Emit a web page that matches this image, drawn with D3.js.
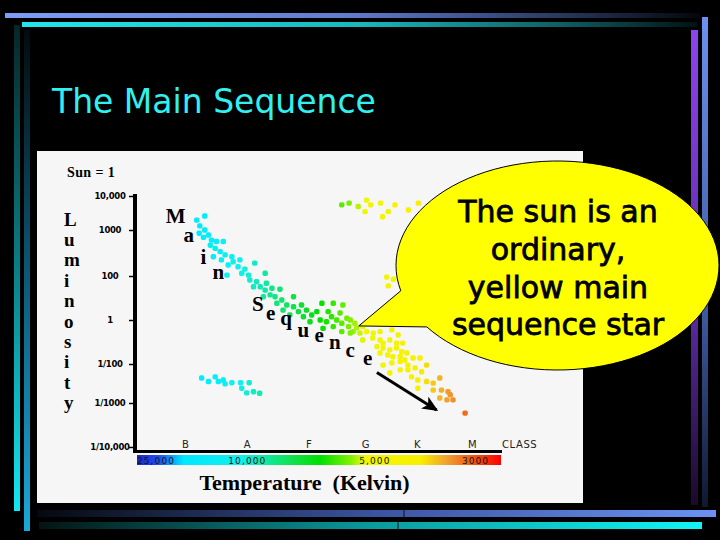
<!DOCTYPE html>
<html>
<head>
<meta charset="utf-8">
<script src="https://cdn.jsdelivr.net/npm/d3@7"></script>
<style>
html, body { margin: 0; padding: 0; background: #000; }
svg { display: block; }
</style>
</head>
<body>
<div id="slide"></div>
<script>
// spectral classes along the bottom (B hot ... M cool)
var classes = ["B", "A", "F", "G", "K", "M"];
// luminosity ticks, log10 of L / Lsun, with their printed labels
var lumTicks = [4, 3, 2, 0, -2, -3, -4];
var lumLabels = ["10,000", "1000", "100", "1", "1/100", "1/1000", "1/10,000"];
// temperature labels printed on the colour bar, placed in class units
var tempLabels = ["25,000", "10,000", "5,000", "3000"];
var tempPos = [-0.47, 1.01, 3.19, 5.07];

// stars: [class index, log10 luminosity]
var mainSequence = [
    [0.32,3.41],[0.19,3.29],[0.24,3.12],[0.32,3.00],[0.23,2.93],[0.38,2.89],[0.30,2.84],[0.43,2.78],[0.51,2.75],[0.62,2.75],
    [0.41,2.67],[0.49,2.60],[0.57,2.53],[0.65,2.46],[0.46,2.42],[0.76,2.42],[0.59,2.35],[0.78,2.31],[0.89,2.35],[0.70,2.24],
    [0.86,2.20],[0.97,2.15],[0.68,2.02],[0.92,2.06],[1.03,2.02],[1.13,2.28],[1.05,1.82],[1.16,1.74],[1.30,2.06],[1.22,1.51],
    [1.32,1.67],[1.11,1.51],[1.30,1.36],[1.41,1.44],[1.54,1.40],[1.38,1.14],[1.46,1.06],[1.27,1.06],[1.57,0.91],[1.65,0.68],
    [1.76,1.06],[1.49,0.76],[1.59,0.45],[1.76,0.60],[1.89,0.68],[1.84,0.38],[1.97,0.45],[1.70,0.23],[1.92,0.15],[2.06,0.23],
    [2.24,0.76],[2.15,0.38],[2.03,-0.08],[2.21,0.00],[2.35,0.38],[2.44,0.76],[2.32,-0.08],[2.41,0.15],[2.50,0.00],[2.26,-0.38],
    [2.44,-0.30],[2.59,-0.15],[2.68,0.08],[2.71,-0.30],[2.59,-0.53],[2.79,-0.53],[2.82,-0.15],[2.61,0.68],[2.56,0.32],[2.74,0.00],
    [2.85,-0.36],[2.96,-0.30],[2.74,-0.59],[2.91,-0.59],[3.03,-0.53],[3.16,-0.60],[3.29,-0.53],[2.96,-0.91],[3.15,-0.82],[3.29,-0.91],
    [3.35,-1.05],[3.52,-0.45],[3.48,-0.91],[3.64,-0.68],[3.61,-1.05],[3.23,-1.21],[3.35,-1.27],[3.48,-1.36],[3.61,-1.27],[3.73,-1.05],
    [3.71,-1.44],[3.29,-1.50],[3.44,-1.59],[3.54,-1.67],[3.68,-1.67],[3.81,-1.50],[3.35,-2.03],[3.52,-1.95],[3.68,-1.89],[3.77,-1.82],
    [3.83,-2.03],[3.93,-1.73],[4.06,-1.73],[4.18,-2.03],[3.68,-2.15],[3.83,-2.15],[3.97,-2.10],[4.09,-2.20],[3.48,-2.23],[3.90,-2.33],
    [4.02,-2.41],[4.02,-2.62],[4.18,-2.45],[4.30,-2.49],[4.42,-2.36],[4.30,-2.67],[4.45,-2.67],[4.57,-2.71],[4.42,-2.87],[4.55,-2.92],
    [4.66,-2.92],[4.61,-2.79],[4.88,-3.23]
];
var giants = [
    [2.59,3.74],[2.72,3.79],[2.88,3.69],[3.00,3.54],[3.03,3.88],[3.11,3.74],[3.30,3.79],[3.34,3.39],
    [3.45,3.54],[3.58,3.74],[3.84,3.59],[4.03,3.79],[3.42,1.95],[3.55,1.85],[3.45,1.55]
];
var whiteDwarfs = [
    [0.27,-2.36],[0.38,-2.45],[0.49,-2.33],[0.54,-2.45],[0.62,-2.41],[0.65,-2.51],[0.76,-2.48],
    [0.90,-2.48],[0.92,-2.62],[1.04,-2.48],[1.00,-2.74],[1.11,-2.71],[1.21,-2.75]
];

// the "Main Sequence" letters written along the band, in data units
var bandLetters = ["M","a","i","n","S","e","q","u","e","n","c","e"];
var bandCls = [-0.15, 0.06, 0.30, 0.54, 1.18, 1.39, 1.64, 1.92, 2.19, 2.47, 2.74, 3.05];
var bandLum = [3.21, 2.73, 2.26, 1.85, 0.41, 0.00, -0.23, -0.76, -0.99, -1.33, -1.67, -2.03];

// arrow toward the cool dim end, and the point the bubble's tail touches
var arrowFrom = [3.23, -2.22], arrowTo = [4.36, -3.16];
var sunPoint = [2.89, -0.27];
var bubbleLines = ["The sun is an", "ordinary,", "yellow main", "sequence star"];

var width = 720, height = 540;

var x = d3.scaleLinear()
    .domain([0, 1, 2, 3, 4, 5])
    .range([185, 246.7, 308.3, 365, 416.7, 471.7]);
var y = d3.scaleLinear()
    .domain([-4, -3, -2, 0, 2, 3, 4])
    .range([447, 403, 364, 320, 276, 230, 196]);

// temperature colours, keyed on class position (also used for the colour bar)
var colorDomain = [-0.78, -0.41, -0.03, 0.89, 1.81, 2.21, 2.74, 3.0, 4.06, 4.55, 5.06, 5.53];
var color = d3.scaleLinear()
    .domain(colorDomain)
    .range(["#1a28d0","#2050f0","#00e8ff","#10f0f0","#10e040","#00e000","#80f000","#f0f800","#f8f000","#f0a030","#f05010","#ff0000"]);

var svg = d3.select("#slide")
    .append("svg")
    .attr("width", width)
    .attr("height", height);
var defs = svg.append("defs");

function gradient(id, vertical, stops) {
    var g = defs.append("linearGradient")
        .attr("id", id)
        .attr("x1", 0).attr("y1", 0)
        .attr("x2", vertical ? 0 : 1).attr("y2", vertical ? 1 : 0);
    stops.forEach(function(s) {
        g.append("stop").attr("offset", s[0]).attr("stop-color", s[1]);
    });
}

svg.append("rect").attr("width", width).attr("height", height).attr("fill", "#000");

// slide frame bars
gradient("topBlue", false, [[0, "#7d9ef4"], [0.5, "#5f7bcc"], [0.8, "#2a375e"], [1, "#05070c"]]);
gradient("topCyan", false, [[0, "#22e6ec"], [0.5, "#19b8bd"], [0.8, "#0e5e62"], [1, "#031213"]]);
gradient("leftCyan", true, [[0, "#062626"], [0.5, "#0a7f86"], [1, "#12e8f2"]]);
gradient("leftBlue", true, [[0, "#040b0e"], [0.5, "#0d5a78"], [1, "#1aa8d8"]]);
gradient("rightPurple", true, [[0, "#8d44ee"], [0.6, "#5a2aa0"], [1, "#1a0a2a"]]);
gradient("rightBlue", true, [[0, "#6b92f0"], [0.6, "#3e5aa0"], [1, "#101830"]]);
gradient("botBlue", false, [[0, "#05080f"], [0.5, "#3a54a0"], [1, "#6b92f4"]]);
gradient("botCyan", false, [[0, "#041414"], [0.5, "#0a9a9c"], [1, "#12f4f4"]]);

var bars = [
    [5, 13, 695, 5, "topBlue"],
    [22, 22, 675, 5, "topCyan"],
    [14, 25, 6, 486, "leftCyan"],
    [24, 30, 6, 501, "leftBlue"],
    [691, 30, 7, 475, "rightPurple"],
    [702, 17, 6, 490, "rightBlue"],
    [37, 510, 679, 7, "botBlue"],
    [39, 522, 663, 7, "botCyan"]
];
svg.selectAll("rect.bar")
    .data(bars)
    .enter()
    .append("rect")
    .attr("class", "bar")
    .attr("x", function(d) { return d[0]; })
    .attr("y", function(d) { return d[1]; })
    .attr("width", function(d) { return d[2]; })
    .attr("height", function(d) { return d[3]; })
    .attr("fill", function(d) { return "url(#" + d[4] + ")"; });
svg.append("line").attr("x1", 404).attr("x2", 404).attr("y1", 510).attr("y2", 517).attr("stroke", "#111");
svg.append("line").attr("x1", 398).attr("x2", 398).attr("y1", 522).attr("y2", 529).attr("stroke", "#111");

svg.append("text")
    .attr("x", 52)
    .attr("y", 113)
    .attr("font-family", "'Comic Sans MS', 'DejaVu Sans', sans-serif")
    .attr("font-size", 33)
    .attr("fill", "#30f0f0")
    .text("The Main Sequence");

// white panel holding the diagram
svg.append("rect")
    .attr("x", 37).attr("y", 151)
    .attr("width", 546).attr("height", 352)
    .attr("fill", "#f6f6f6");

var chart = svg.append("g");
var serif = "'Liberation Serif', 'Times New Roman', serif";

chart.append("text")
    .attr("x", 67).attr("y", 177)
    .attr("font-family", serif).attr("font-weight", "bold")
    .attr("font-size", 14)
    .attr("letter-spacing", 0.4)
    .text("Sun = 1");

chart.selectAll("text.lum")
    .data("Luminosity".split(""))
    .enter()
    .append("text")
    .attr("class", "lum")
    .attr("x", 64)
    .attr("y", function(d, i) { return 225.5 + i * 20.4; })
    .attr("font-family", serif).attr("font-weight", "bold")
    .attr("font-size", 19)
    .text(function(d) { return d; });

// colour bar under the x axis
var barLeft = 137, barRight = 501;
var cg = defs.append("linearGradient").attr("id", "tempBar");
colorDomain.forEach(function(c) {
    cg.append("stop")
        .attr("offset", (x(c) - barLeft) / (barRight - barLeft))
        .attr("stop-color", color(c));
});
chart.append("rect")
    .attr("x", barLeft).attr("y", 455)
    .attr("width", barRight - barLeft).attr("height", 10)
    .attr("fill", "url(#tempBar)");
chart.selectAll("text.temp")
    .data(tempLabels)
    .enter()
    .append("text")
    .attr("class", "temp")
    .attr("x", function(d, i) { return x(tempPos[i]); })
    .attr("y", 464)
    .attr("text-anchor", "middle")
    .attr("font-family", "'DejaVu Sans', sans-serif")
    .attr("font-size", 9)
    .attr("letter-spacing", 1.1)
    .attr("fill", "#151515")
    .text(function(d) { return d; });

// luminosity axis
var yAxis = chart.append("g")
    .attr("transform", "translate(135,0)")
    .call(d3.axisLeft(y)
        .tickValues(lumTicks)
        .tickFormat(function(d, i) { return lumLabels[i]; })
        .tickSize(6)
        .tickSizeOuter(0));
yAxis.select(".domain").remove();
yAxis.selectAll(".tick line").attr("stroke", "#000").attr("stroke-width", 1.5);
yAxis.selectAll(".tick text")
    .attr("x", -25)
    .attr("text-anchor", "middle")
    .attr("font-family", "'DejaVu Sans', sans-serif")
    .attr("font-weight", "bold")
    .attr("font-size", 8.5)
    .attr("letter-spacing", -0.3)
    .attr("fill", "#000");

// spectral class axis (letters sit just above the line)
var xAxis = chart.append("g")
    .attr("transform", "translate(0,451)")
    .call(d3.axisTop(x)
        .tickValues(d3.range(classes.length))
        .tickFormat(function(d) { return classes[d]; })
        .tickSize(0)
        .tickPadding(3));
xAxis.select(".domain").remove();
xAxis.selectAll(".tick text")
    .attr("font-family", "'DejaVu Sans', sans-serif")
    .attr("font-size", 10)
    .attr("fill", "#222");
chart.append("text")
    .attr("x", 502).attr("y", 448)
    .attr("font-family", "'DejaVu Sans', sans-serif")
    .attr("font-size", 10)
    .attr("letter-spacing", 0.6)
    .attr("fill", "#222")
    .text("CLASS");

chart.append("line")
    .attr("x1", 135).attr("x2", 135)
    .attr("y1", y(4) - 2).attr("y2", 453)
    .attr("stroke", "#000").attr("stroke-width", 4);
chart.append("line")
    .attr("x1", 133).attr("x2", 502)
    .attr("y1", 451.5).attr("y2", 451.5)
    .attr("stroke", "#000").attr("stroke-width", 3);

chart.append("text")
    .attr("x", 304.5).attr("y", 490)
    .attr("text-anchor", "middle")
    .attr("font-family", serif).attr("font-weight", "bold")
    .attr("font-size", 22)
    .style("white-space", "pre")
    .text("Temperature  (Kelvin)");

// stars
var stars = mainSequence.concat(giants, whiteDwarfs);
chart.selectAll("rect.star")
    .data(stars)
    .enter()
    .append("rect")
    .attr("class", "star")
    .attr("x", function(d) { return x(d[0]) - 2.7; })
    .attr("y", function(d) { return y(d[1]) - 2.7; })
    .attr("width", 5.4)
    .attr("height", 5.4)
    .attr("rx", 1.8)
    .attr("fill", function(d) { return color(d[0]); });

chart.selectAll("text.band")
    .data(bandLetters)
    .enter()
    .append("text")
    .attr("class", "band")
    .attr("x", function(d, i) { return x(bandCls[i]); })
    .attr("y", function(d, i) { return y(bandLum[i]); })
    .attr("text-anchor", "middle")
    .attr("font-family", serif).attr("font-weight", "bold")
    .attr("font-size", 21)
    .text(function(d) { return d; });

defs.append("marker")
    .attr("id", "head")
    .attr("markerUnits", "userSpaceOnUse")
    .attr("viewBox", "0 0 16 14")
    .attr("markerWidth", 16).attr("markerHeight", 14)
    .attr("refX", 14).attr("refY", 7)
    .attr("orient", "auto")
    .append("path")
    .attr("d", "M0,0 L16,7 L0,14 L4,7 Z")
    .attr("fill", "#000");
chart.append("line")
    .attr("x1", x(arrowFrom[0])).attr("y1", y(arrowFrom[1]))
    .attr("x2", x(arrowTo[0])).attr("y2", y(arrowTo[1]))
    .attr("stroke", "#000").attr("stroke-width", 3)
    .attr("marker-end", "url(#head)");

// speech bubble, tail pointing at the sun's place on the band
var cx = 557.5, cy = 265.5, rx = 161.5, ry = 104.5;
function onEllipse(deg) {
    var t = deg * Math.PI / 180;
    return [cx + rx * Math.cos(t), cy + ry * Math.sin(t)];
}
var p1 = onEllipse(166), p2 = onEllipse(144);
var tip = [x(sunPoint[0]), y(sunPoint[1])];
svg.append("path")
    .attr("d", "M" + p1 + "L" + tip + "L" + p2 +
        "A" + rx + "," + ry + " 0 1 0 " + p1 + "Z")
    .attr("fill", "#ffff00")
    .attr("stroke", "#000")
    .attr("stroke-width", 1);

svg.selectAll("text.bubble")
    .data(bubbleLines)
    .enter()
    .append("text")
    .attr("class", "bubble")
    .attr("x", 558)
    .attr("y", function(d, i) { return 222 + i * 37.8; })
    .attr("text-anchor", "middle")
    .attr("font-family", "'Comic Sans MS', 'DejaVu Sans', sans-serif")
    .attr("font-size", 30)
    .attr("fill", "#000")
    .attr("stroke", "#000")
    .attr("stroke-width", 0.8)
    .text(function(d) { return d; });
</script>
</body>
</html>
